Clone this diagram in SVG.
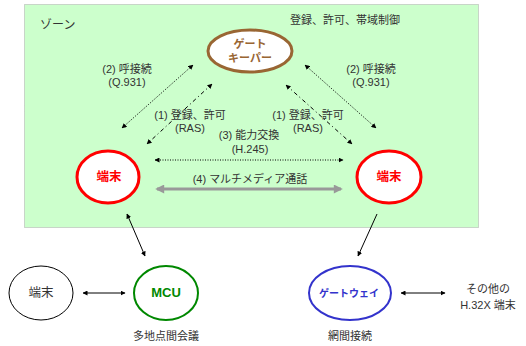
<svg xmlns="http://www.w3.org/2000/svg" width="526" height="346" viewBox="0 0 526 346">
<defs>
<marker id="ah" viewBox="0 0 10 10" refX="9" refY="5" markerWidth="5" markerHeight="5" orient="auto-start-reverse" markerUnits="userSpaceOnUse">
<path d="M0,0 L10,5 L0,10 z" fill="#000"/>
</marker>
<marker id="ahg" viewBox="0 0 10 10" refX="8" refY="5" markerWidth="10" markerHeight="9" orient="auto-start-reverse" markerUnits="userSpaceOnUse">
<path d="M0,0 L10,5 L0,10 z" fill="#999"/>
</marker>
</defs>
<style>
text{font-family:"Liberation Sans","Noto Sans CJK JP",sans-serif;font-size:11px;fill:#333;}
.c{text-anchor:middle;}
.b{font-weight:bold;font-size:11px;}
.dot{stroke:#000;stroke-width:1;fill:none;stroke-dasharray:1 1.5;marker-start:url(#ah);marker-end:url(#ah);}
.dd{stroke:#000;stroke-width:1;fill:none;stroke-dasharray:4 3 1 3;marker-start:url(#ah);marker-end:url(#ah);}
.sol{stroke:#000;stroke-width:1;fill:none;}
</style>
<rect x="24.5" y="4.5" width="454" height="223" fill="#ccffcc" stroke="#aaa" stroke-dasharray="1 1"/>
<text x="40" y="29" style="font-size:12px">ゾーン</text>
<text x="290" y="24">登録、許可、帯域制御</text>

<g id="connectors">
<line class="dot" x1="122" y1="128" x2="193" y2="65"/>
<line class="dd" x1="212" y1="84" x2="147" y2="144"/>
<line class="dot" x1="305" y1="65" x2="376" y2="128"/>
<line class="dd" x1="286" y1="85" x2="352" y2="144"/>
<line class="dot" x1="155" y1="160" x2="343" y2="160"/>
<line x1="157" y1="189" x2="341" y2="189" stroke="#999" stroke-width="3" marker-start="url(#ahg)" marker-end="url(#ahg)"/>
<line class="sol" x1="127" y1="214" x2="145" y2="256" marker-start="url(#ah)" marker-end="url(#ah)"/>
<line class="sol" x1="377" y1="214" x2="358" y2="256" marker-end="url(#ah)"/>
<line class="sol" x1="83" y1="293" x2="125" y2="293" marker-start="url(#ah)" marker-end="url(#ah)"/>
<line class="sol" x1="401" y1="293" x2="445" y2="293" marker-start="url(#ah)" marker-end="url(#ah)"/>
</g>

<g id="labels">
<text class="c" x="127" y="73">(2) 呼接続</text>
<text class="c" x="127" y="86">(Q.931)</text>
<text class="c" x="371" y="73">(2) 呼接続</text>
<text class="c" x="371" y="86">(Q.931)</text>
<text class="c" x="190" y="119">(1) 登録、許可</text>
<text class="c" x="190" y="132">(RAS)</text>
<text class="c" x="308" y="119">(1) 登録、許可</text>
<text class="c" x="308" y="132">(RAS)</text>
<text class="c" x="249" y="139">(3) 能力交換</text>
<text class="c" x="250" y="153">(H.245)</text>
<text class="c" x="250" y="183">(4) マルチメディア通話</text>
</g>

<g id="gatekeeper">
<ellipse cx="250" cy="51" rx="42" ry="21" fill="#fff" stroke="#996633" stroke-width="3"/>
<text class="c b" x="250" y="48" style="fill:#996633">ゲート</text>
<text class="c b" x="250" y="62" style="fill:#996633">キーパー</text>
</g>
<g id="terminal-left">
<ellipse cx="108" cy="177" rx="31" ry="26" fill="#fff" stroke="#ff0000" stroke-width="3"/>
<text class="c b" x="109" y="181" style="fill:#ff0000;font-size:12.5px">端末</text>
</g>
<g id="terminal-right">
<ellipse cx="389" cy="177" rx="32" ry="26" fill="#fff" stroke="#ff0000" stroke-width="3"/>
<text class="c b" x="389" y="181" style="fill:#ff0000;font-size:12.5px">端末</text>
</g>
<g id="terminal-bottom">
<ellipse cx="41" cy="293" rx="32" ry="27" fill="#fff" stroke="#000" stroke-width="1"/>
<text class="c" x="41" y="297" style="font-size:12.5px">端末</text>
</g>
<g id="mcu">
<ellipse cx="166" cy="293" rx="32" ry="27" fill="#fff" stroke="#008800" stroke-width="2"/>
<text class="c b" x="166" y="297" style="fill:#008800;font-size:13px">MCU</text>
<text class="c" x="166" y="340">多地点間会議</text>
</g>
<g id="gateway">
<ellipse cx="350" cy="293" rx="41" ry="27" fill="#fff" stroke="#3333cc" stroke-width="2"/>
<text class="c b" x="349" y="297" style="fill:#3333cc;font-size:10px">ゲートウェイ</text>
<text class="c" x="350" y="340">網間接続</text>
</g>
<g id="other-terminal">
<text class="c" x="488" y="293">その他の</text>
<text class="c" x="488" y="309">H.32X 端末</text>
</g>
</svg>
